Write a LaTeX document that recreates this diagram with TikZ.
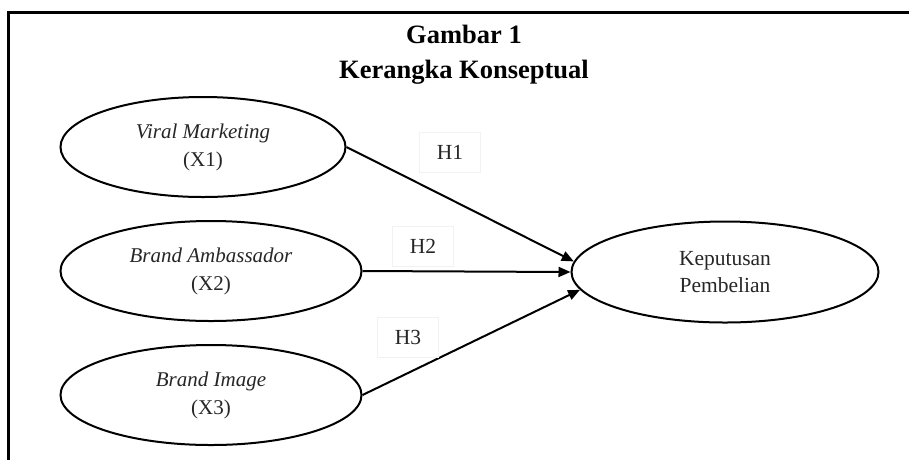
\documentclass[tikz,border=0pt]{standalone}
\usepackage{fontspec}
\setmainfont{Liberation Serif}
\usetikzlibrary{arrows.meta, shapes.geometric}
\tikzstyle{var} = [draw, ellipse, line width=2pt, inner sep=0pt, align=center, text=black!85, font=\fontsize{21}{28}\selectfont]
\tikzstyle{hyp} = [draw=black!5, line width=0.6pt, fill=white, minimum width=61pt, minimum height=40pt, text=black!85, font=\fontsize{21.5}{25}\selectfont]
\tikzstyle{path} = [->, line width=2pt]

\begin{document}
\begin{tikzpicture}[x=1pt, y=-1pt, >={Triangle[length=12pt, width=10pt]}]

\useasboundingbox (0,0) rectangle (909,459);
\draw [line width=3pt] (8,475) -- (8,12) -- (925,12);

\node [font=\bfseries\fontsize{26.5}{35}\selectfont, align=center] (title) at (464,55) {Gambar 1\\Kerangka Konseptual};

\node [var, minimum width=285pt, minimum height=100pt] (X1) at (203,147) {\textit{Viral Marketing}\\(X1)};
\node [var, minimum width=301pt, minimum height=100pt] (X2) at (211,271) {\textit{Brand Ambassador}\\(X2)};
\node [var, minimum width=301pt, minimum height=100pt] (X3) at (211,395) {\textit{Brand Image}\\(X3)};
\node [var, minimum width=307pt, minimum height=101pt, font=\fontsize{21.5}{27}\selectfont] (Y) at (725,272) {Keputusan\\Pembelian};

\draw [path] (X1.east) -- (Y.176);
\draw [path] (X2.east) -- (Y.west);
\draw [path] (X3.east) -- (Y.187);

\node [hyp] (H1) at (450,152) {H1};
\node [hyp] (H2) at (423,246) {H2};
\node [hyp] (H3) at (408,337) {H3};

\end{tikzpicture}
\end{document}
